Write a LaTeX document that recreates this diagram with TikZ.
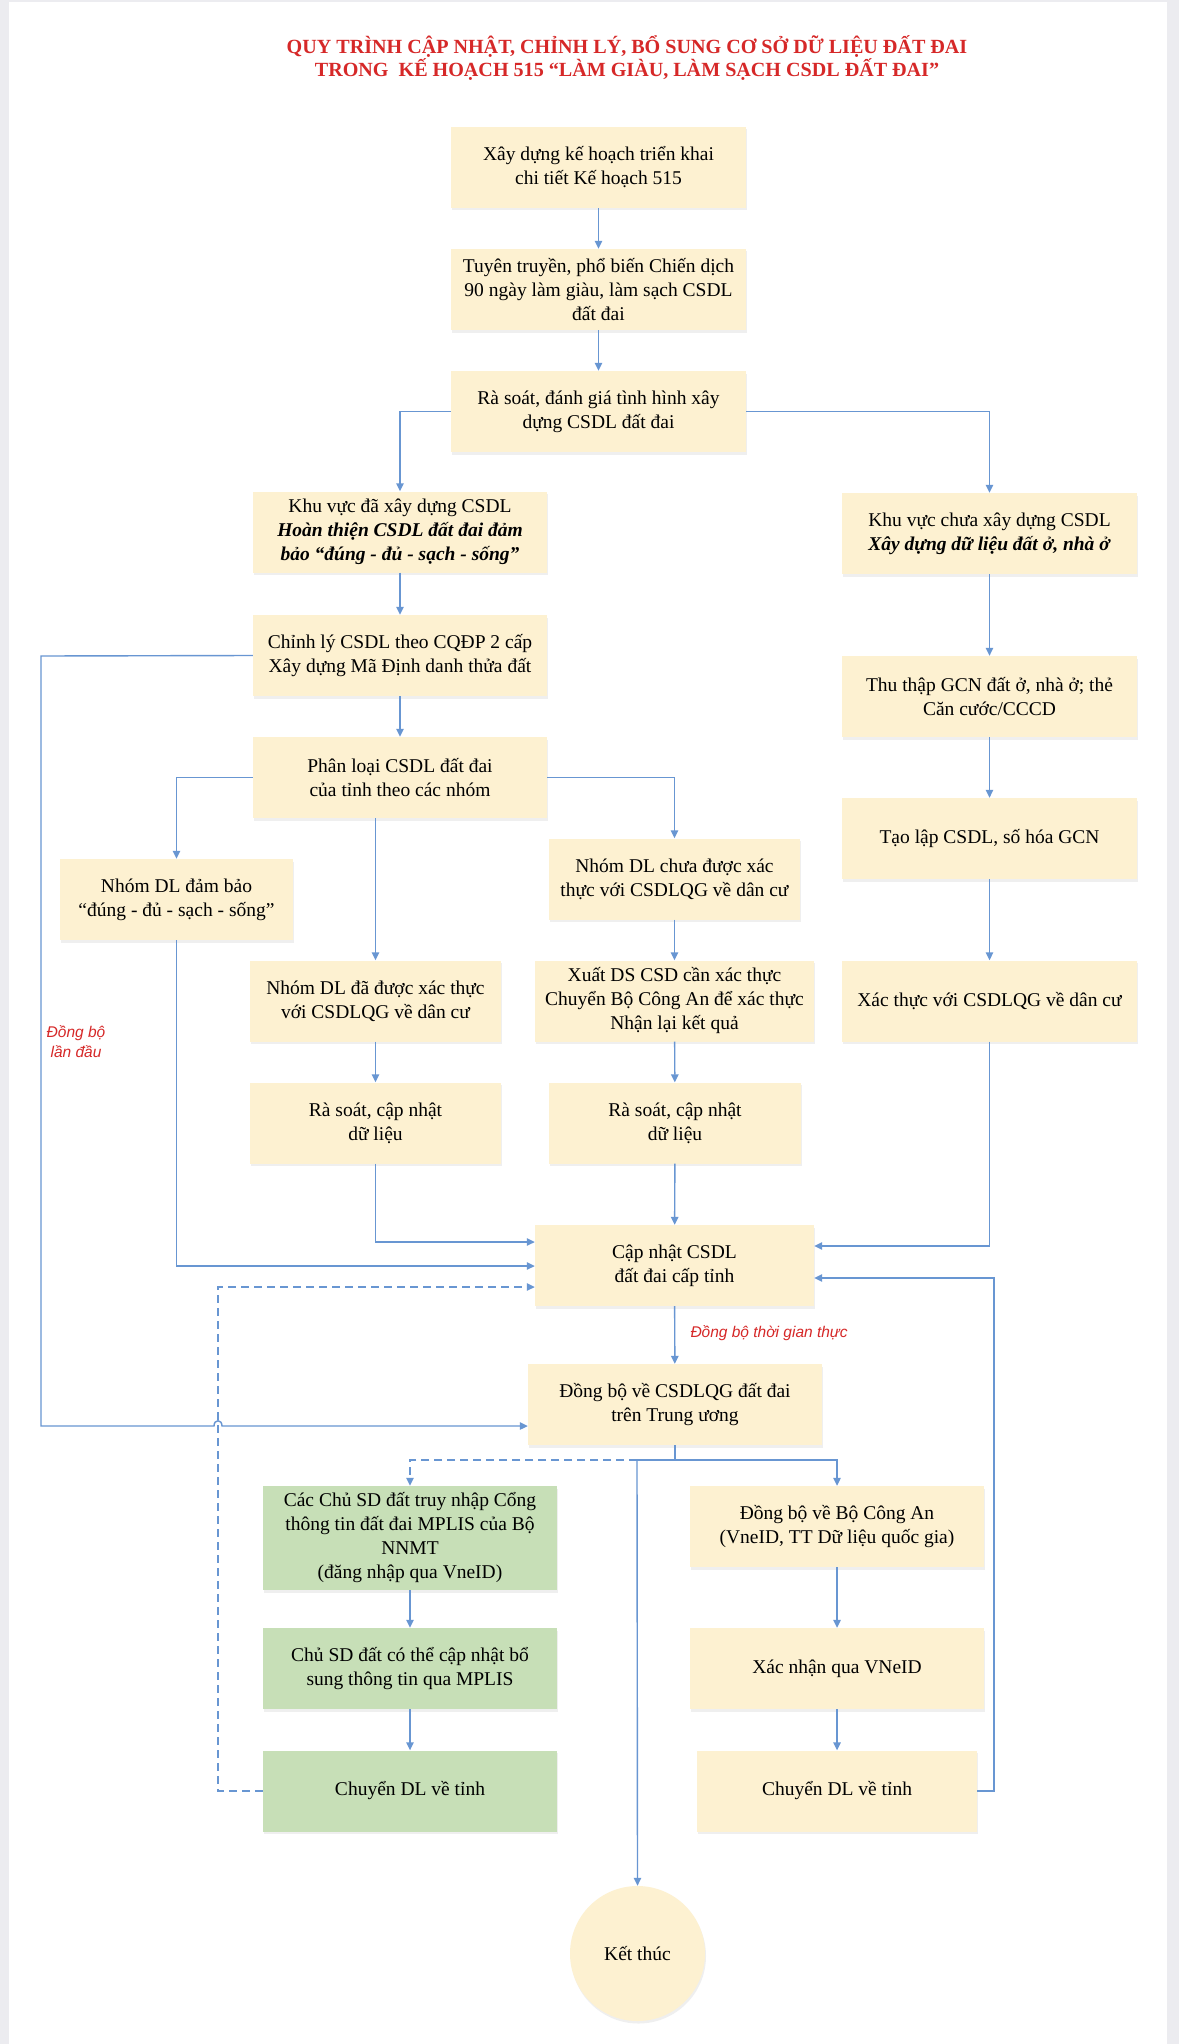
\documentclass[tikz,border=0pt]{standalone}
\usepackage{fontspec}
\setmainfont{Liberation Serif}
\newfontfamily\labelfont{Liberation Sans}
\usetikzlibrary{arrows.meta,shadows,calc}
\definecolor{boxfill}{RGB}{253,241,209}
\definecolor{greenfill}{RGB}{199,223,183}
\definecolor{linec}{RGB}{104,150,210}
\definecolor{titlered}{RGB}{214,40,40}
\definecolor{edgegray}{RGB}{236,236,240}
\tikzset{
  x=1pt, y=-1pt,
  box/.style={fill=boxfill, draw=none, align=center, inner sep=2pt,
    font=\fontsize{19.5}{24}\selectfont, minimum height=81pt,
    drop shadow={shadow xshift=1pt, shadow yshift=-2.5pt, fill=black!12}},
  gbox/.style={box, fill=greenfill},
  conn/.style={draw=linec, line width=1.4pt, -{Triangle[length=8pt,width=7.5pt]}},
  dconn/.style={conn, dash pattern=on 8pt off 5pt},
  sline/.style={draw=linec, line width=1.4pt},
  redlab/.style={text=titlered, font=\labelfont\itshape\fontsize{15.5}{20}\selectfont, align=center}
}
\begin{document}
\begin{tikzpicture}
\useasboundingbox (0,0) rectangle (1179,2044);
\fill[edgegray] (0,0) rectangle (1179,2044);
\fill[white] (9,2) rectangle (1167,2044);

% title
\node[text=titlered, font=\bfseries\fontsize{20.1}{23}\selectfont, align=center] (title) at (627,58)
  {QUY TRÌNH CẬP NHẬT, CHỈNH LÝ, BỔ SUNG CƠ SỞ DỮ LIỆU ĐẤT ĐAI\\TRONG\ \ KẾ HOẠCH 515 “LÀM GIÀU, LÀM SẠCH CSDL ĐẤT ĐAI”};

% main column
\node[box, minimum width=295pt] (b1) at (598.5,167.5) {Xây dựng kế hoạch triển khai\\chi tiết Kế hoạch 515};
\node[box, minimum width=295pt] (b2) at (598.5,289.5) {Tuyên truyền, phổ biến Chiến dịch\\90 ngày làm giàu, làm sạch CSDL\\đất đai};
\node[box, minimum width=295pt] (b3) at (598.5,411.5) {Rà soát, đánh giá tình hình xây\\dựng CSDL đất đai};

\node[box, minimum width=294pt] (b4) at (400,532) {Khu vực đã xây dựng CSDL\\\textbf{\textit{Hoàn thiện CSDL đất đai đảm}}\\\textbf{\textit{bảo “đúng - đủ - sạch - sống”}}};
\node[box, minimum width=294pt] (b5) at (400,655.5) {Chỉnh lý CSDL theo CQĐP 2 cấp\\Xây dựng Mã Định danh thửa đất};
\node[box, minimum width=294pt] (b6) at (400,777.5) {Phân loại CSDL đất đai\\của tỉnh theo các nhóm};

% right column
\node[box, minimum width=295pt] (r1) at (989.5,533.5) {Khu vực chưa xây dựng CSDL\\\textbf{\textit{Xây dựng dữ liệu đất ở, nhà ở}}};
\node[box, minimum width=295pt] (r2) at (989.5,696.5) {Thu thập GCN đất ở, nhà ở; thẻ\\Căn cước/CCCD};
\node[box, minimum width=295pt] (r3) at (989.5,838.5) {Tạo lập CSDL, số hóa GCN};
\node[box, minimum width=295pt] (r4) at (989.5,1001) {Xác thực với CSDLQG về dân cư};

% groups
\node[box, minimum width=233pt] (g1) at (176.5,899.5) {Nhóm DL đảm bảo\\“đúng - đủ - sạch - sống”};
\node[box, minimum width=251pt] (g2) at (375.5,1001) {Nhóm DL đã được xác thực\\với CSDLQG về dân cư};
\node[box, minimum width=251pt] (g3) at (375.5,1123) {Rà soát, cập nhật\\dữ liệu};
\node[box, minimum width=251pt] (c1) at (674.5,879) {Nhóm DL chưa được xác\\thực với CSDLQG về dân cư};
\node[box, minimum width=279pt] (c2) at (674.5,1001) {Xuất DS CSD cần xác thực\\Chuyển Bộ Công An để xác thực\\Nhận lại kết quả};
\node[box, minimum width=252pt] (c3) at (675,1123) {Rà soát, cập nhật\\dữ liệu};

\node[box, minimum width=279pt] (u) at (674.5,1265.5) {Cập nhật CSDL\\đất đai cấp tỉnh};
\node[box, minimum width=294pt] (s) at (675,1404.5) {Đồng bộ về CSDLQG đất đai\\trên Trung ương};

% bottom
\node[gbox, minimum width=294pt, minimum height=104pt] (m1) at (410,1538) {Các Chủ SD đất truy nhập Cổng\\thông tin đất đai MPLIS của Bộ\\NNMT\\(đăng nhập qua VneID)};
\node[gbox, minimum width=294pt] (m2) at (410,1668.5) {Chủ SD đất có thể cập nhật bổ\\sung thông tin qua MPLIS};
\node[gbox, minimum width=294pt] (m3) at (410,1791) {Chuyển DL về tỉnh};
\node[box, minimum width=294pt] (p1) at (837,1526.5) {Đồng bộ về Bộ Công An\\(VneID, TT Dữ liệu quốc gia)};
\node[box, minimum width=294pt] (p2) at (837,1668.5) {Xác nhận qua VNeID};
\node[box, minimum width=280pt] (p3) at (837,1791) {Chuyển DL về tỉnh};
\node[box, circle, minimum width=135pt, minimum height=135pt, inner sep=0pt] (fin) at (637.5,1953.5) {Kết thúc};

% labels
\node[redlab] (lab1) at (76,1042) {Đồng bộ\\lần đầu};
\node[redlab, anchor=west] (lab2) at (687,1333) {Đồng bộ thời gian thực};

% connectors
\draw[conn] (b1) -- (b2);
\draw[conn] (b2) -- (b3);
\draw[conn] (b3.west) -| (b4.north);
\draw[conn] (b3.east) -| (r1.north);
\draw[conn] (b4) -- (b5);
\draw[conn] (b5) -- (b6);
\draw[conn] (r1) -- (r2);
\draw[conn] (r2) -- (r3);
\draw[conn] (r3) -- (r4);
\draw[conn] (b6.west) -| (g1.north);
\draw[conn] (b6.south -| g2.north) -- (g2.north);
\draw[conn] (b6.east) -| (c1.north);
\draw[conn] (g2) -- (g3);
\draw[conn] (c1) -- (c2);
\draw[conn] (c2) -- (c3);
\draw[conn] (c3) -- (u);
\draw[conn] (g3.south) |- (u.west |- 0,1242);
\draw[conn] (g1.south) |- (u.west |- 0,1266);
\draw[conn] (r4.south) |- (u.east |- 0,1246);
\draw[conn] (p3.east) -- (994,1791) -- (994,1278) -- (u.east |- 0,1278);
\draw[dconn] (m3.west) -- (218,1791) -- (218,1287) -- (u.west |- 0,1287);
\draw[conn] (b5.west) -- (41,656) -- (41,1426) -- (214,1426) .. controls (214,1419) and (222,1419) .. (222,1426) -- (s.west |- 0,1426);
\draw[conn] (u) -- (s);
\draw[sline] (s.south) -- (675,1460) -- (637,1460);
\draw[conn] (675,1460) -| (p1.north);
\draw[conn] (637,1460) -- (fin.north);
\draw[dconn] (637,1460) -| (m1.north);
\draw[conn] (m1) -- (m2);
\draw[conn] (m2) -- (m3);
\draw[conn] (p1) -- (p2);
\draw[conn] (p2) -- (p3);
\end{tikzpicture}
\end{document}
